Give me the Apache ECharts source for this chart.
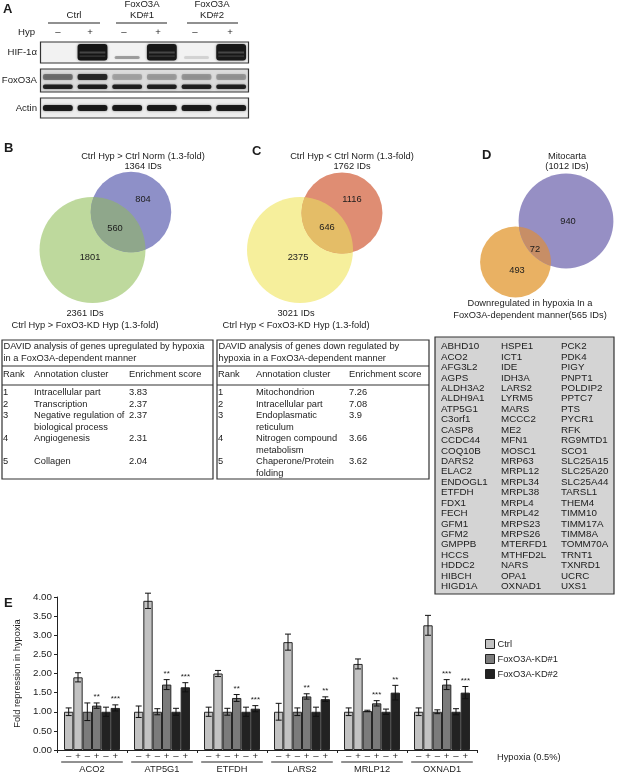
<!DOCTYPE html>
<html><head><meta charset="utf-8">
<script src="https://cdn.jsdelivr.net/npm/echarts@6/dist/echarts.min.js"></script>
<style>html,body{margin:0;padding:0;background:#fff}#c{width:621px;height:774px}</style>
</head><body><div id="c"></div>
<script>
// ---------- Panel A: western blot ----------
const laneSigns = ['–','+','–','+','–','+'];
const laneGroups = ['Ctrl','FoxO3A\nKD#1','FoxO3A\nKD#2'];
const blotRows = ['HIF-1α','FoxO3A','Actin'];
const hifBand = [0.00, 0.97, 0.18, 0.95, 0.06, 0.95];
const foxo3aUpperBand = [0.45, 0.88, 0.22, 0.25, 0.28, 0.28];
const foxo3aLowerBand = [0.88, 0.90, 0.88, 0.88, 0.88, 0.88];
const actinBand = [0.92, 0.92, 0.92, 0.92, 0.92, 0.92];

// ---------- Panels B, C, D: Venn diagrams (only first, overlap, only second) ----------
const vennBCounts = [1801, 560, 804];
const vennBLabels = ['2361 IDs\nCtrl Hyp > FoxO3-KD Hyp (1.3-fold)', 'Ctrl Hyp > Ctrl Norm (1.3-fold)\n1364 IDs'];
const vennCCounts = [2375, 646, 1116];
const vennCLabels = ['3021 IDs\nCtrl Hyp < FoxO3-KD Hyp (1.3-fold)', 'Ctrl Hyp < Ctrl Norm (1.3-fold)\n1762 IDs'];
const vennDCounts = [493, 72, 940];
const vennDLabels = ['Downregulated in hypoxia In a\nFoxO3A-dependent manner(565 IDs)', 'Mitocarta\n(1012 IDs)'];

// ---------- DAVID tables ----------
const tableBTitle = 'DAVID analysis of genes upregulated by hypoxia\nin a FoxO3A-dependent manner';
const tableBRank = ['1','2','3','4','5'];
const tableBCluster = ['Intracellular part','Transcription','Negative regulation of\nbiological process','Angiogenesis','Collagen'];
const tableBScore = ['3.83','2.37','2.37','2.31','2.04'];
const tableCTitle = 'DAVID analysis of genes down regulated by\nhypoxia in a FoxO3A-dependent manner';
const tableCRank = ['1','2','3','4','5'];
const tableCCluster = ['Mitochondrion','Intracellular part','Endoplasmatic\nreticulum','Nitrogen compound\nmetabolism','Chaperone/Protein\nfolding'];
const tableCScore = ['7.26','7.08','3.9','3.66','3.62'];
const tableHeader = ['Rank','Annotation cluster','Enrichment score'];

// ---------- Panel D gene list ----------
const genesCol1 = ['ABHD10','ACO2','AFG3L2','AGPS','ALDH3A2','ALDH9A1','ATP5G1','C3orf1','CASP8','CCDC44','COQ10B','DARS2','ELAC2','ENDOGL1','ETFDH','FDX1','FECH','GFM1','GFM2','GMPPB','HCCS','HDDC2','HIBCH','HIGD1A'];
const genesCol2 = ['HSPE1','ICT1','IDE','IDH3A','LARS2','LYRM5','MARS','MCCC2','ME2','MFN1','MOSC1','MRP63','MRPL12','MRPL34','MRPL38','MRPL4','MRPL42','MRPS23','MRPS26','MTERFD1','MTHFD2L','NARS','OPA1','OXNAD1'];
const genesCol3 = ['PCK2','PDK4','PIGY','PNPT1','POLDIP2','PPTC7','PTS','PYCR1','RFK','RG9MTD1','SCO1','SLC25A15','SLC25A20','SLC25A44','TARSL1','THEM4','TIMM10','TIMM17A','TIMM8A','TOMM70A','TRNT1','TXNRD1','UCRC','UXS1'];

// ---------- Panel E: qPCR bars ----------
const genes = ['ACO2','ATP5G1','ETFDH','LARS2','MRLP12','OXNAD1'];
const hypoxiaSigns = ['–','+','–','+','–','+'];
const groupNames = ['Ctrl','FoxO3A-KD#1','FoxO3A-KD#2'];
const ctrlNorm    = [1.00, 1.00, 1.00, 1.00, 1.00, 1.00];
const ctrlHyp     = [1.90, 3.90, 2.00, 2.82, 2.25, 3.26];
const kd1Norm     = [1.00, 1.00, 1.00, 1.00, 1.02, 1.00];
const kd1Hyp      = [1.16, 1.71, 1.36, 1.40, 1.22, 1.71];
const kd2Norm     = [1.00, 1.00, 1.00, 1.00, 1.00, 1.00];
const kd2Hyp      = [1.10, 1.64, 1.08, 1.33, 1.50, 1.50];
const ctrlNormErr = [0.10, 0.15, 0.12, 0.22, 0.10, 0.10];
const ctrlHypErr  = [0.12, 0.20, 0.08, 0.21, 0.13, 0.26];
const kd1NormErr  = [0.23, 0.08, 0.09, 0.10, 0.02, 0.05];
const kd1HypErr   = [0.07, 0.13, 0.09, 0.07, 0.07, 0.13];
const kd2NormErr  = [0.12, 0.09, 0.12, 0.12, 0.07, 0.08];
const kd2HypErr   = [0.08, 0.12, 0.08, 0.06, 0.19, 0.16];
const kd1Stars    = ['**','**','**','**','***','***'];
const kd2Stars    = ['***','***','***','**','**','***'];
const yTicks = [0, 4, 0.5];

// =================== drawing ===================
const FONT = '"Liberation Sans", Arial, Helvetica, sans-serif';
const FS = 9.3;
const INK = '#1c1c1c';
const chart = echarts.init(document.getElementById('c'), null, {renderer: 'canvas', width: 621, height: 774});

const G = [];
function txt(x, y, text, o) {
  o = o || {};
  const st = {text: text, fill: o.fill || INK, fontSize: o.size || FS, fontFamily: FONT,
    fontWeight: o.weight || 'normal',
    textAlign: o.align || 'left', align: o.align || 'left',
    textVerticalAlign: o.va || 'middle', verticalAlign: o.va || 'middle',
    lineHeight: o.lh || 12};
  G.push({type: 'text', x: x, y: y, rotation: o.rot || 0, style: st, silent: true, z: o.z || 50});
}
function line(x1, y1, x2, y2, w, c) {
  G.push({type: 'line', shape: {x1, y1, x2, y2}, style: {stroke: c || '#222', lineWidth: w || 1}, silent: true, z: 40});
}
function rect(x, y, w, h, fill, stroke, lw, z) {
  G.push({type: 'rect', shape: {x, y, width: w, height: h}, style: {fill: fill || 'none', stroke: stroke || 'none', lineWidth: lw || 1}, silent: true, z: z == null ? 1 : z});
}

// Panel letters
txt(3, 9, 'A', {size: 13, weight: 'bold'});
txt(4, 148, 'B', {size: 13, weight: 'bold'});
txt(252, 151, 'C', {size: 13, weight: 'bold'});
txt(482, 155, 'D', {size: 13, weight: 'bold'});
txt(4, 603, 'E', {size: 13, weight: 'bold'});

// ---- Panel A layout ----
const grpCx = [74, 142, 212];
const grpLine = [[48, 100], [116, 167], [187, 238]];
laneGroups.forEach((g, i) => {
  const multi = g.indexOf('\n') >= 0;
  txt(grpCx[i], multi ? 10 : 15, g, {align: 'center', size: 9.6, lh: 10.5});
  line(grpLine[i][0], 23, grpLine[i][1], 23, 1.2);
});
txt(18, 32, 'Hyp', {size: 9.6});
const laneX = [58, 90, 124, 158, 195, 230];
laneSigns.forEach((s, i) => txt(laneX[i], 32, s, {align: 'center', size: 9.6}));
const blotBoxes = [[42, 21, '#f2f2f2'], [69, 23, '#dcdcdc'], [98, 20, '#ededed']];
const blotLabelX = [37, 37, 37];
blotBoxes.forEach((b, i) => {
  rect(40.5, b[0], 208, b[1], b[2], null, 0, 0);
  rect(40.5, b[0], 208, b[1], 'none', '#333', 1.2, 100);
  txt(blotLabelX[i], b[0] + b[1] / 2, blotRows[i], {align: 'right', size: 9.6});
});

// ---- Venn helpers ----
function lensPoints(c1, r1, c2, r2) {
  const dx = c2[0] - c1[0], dy = c2[1] - c1[1], d = Math.hypot(dx, dy);
  const a = (r1 * r1 - r2 * r2 + d * d) / (2 * d);
  const phi = Math.atan2(dy, dx);
  const al = Math.acos(a / r1), be = Math.acos((d - a) / r2);
  const pts = [];
  const N = 60;
  for (let i = 0; i <= N; i++) { const t = phi - al + 2 * al * i / N; pts.push([c1[0] + r1 * Math.cos(t), c1[1] + r1 * Math.sin(t)]); }
  for (let i = 0; i <= N; i++) { const t = phi + Math.PI - be + 2 * be * i / N; pts.push([c2[0] + r2 * Math.cos(t), c2[1] + r2 * Math.sin(t)]); }
  return pts;
}
function venn(counts, labels, k, cA, cB, colA, colB, colAB, numPos, labPosA, labPosB) {
  const rA = k * Math.sqrt(counts[0] + counts[1]);
  const rB = k * Math.sqrt(counts[1] + counts[2]);
  G.push({type: 'circle', shape: {cx: cA[0], cy: cA[1], r: rA}, style: {fill: colA}, silent: true, z: 5});
  G.push({type: 'circle', shape: {cx: cB[0], cy: cB[1], r: rB}, style: {fill: colB}, silent: true, z: 5});
  G.push({type: 'polygon', shape: {points: lensPoints(cA, rA, cB, rB)}, style: {fill: colAB}, silent: true, z: 6});
  counts.forEach((c, i) => txt(numPos[i][0], numPos[i][1], String(c), {align: 'center'}));
  txt(labPosA[0], labPosA[1], labels[0], {align: 'center', va: 'top', lh: 12});
  txt(labPosB[0], labPosB[1], labels[1], {align: 'center', va: 'top', lh: 9.5});
}
venn(vennBCounts, vennBLabels, 1.09, [92.5, 250], [131, 212], '#bed99d', '#8e90c8', '#8fa78b',
  [[90, 257], [115, 228], [143, 199]], [85, 307], [143, 152]);
venn(vennCCounts, vennCLabels, 0.964, [300, 250], [342, 213], '#f6ef9c', '#df8d73', '#e4bd67',
  [[298, 257], [327, 227], [352, 199]], [296, 307], [352, 152]);
venn(vennDCounts, vennDLabels, 1.49, [515.5, 262], [566, 221], '#e9b163', '#968fc4', '#c78e66',
  [[517, 270], [535, 249], [568, 221]], [530, 297], [567, 152]);

// ---- Tables ----
const rowY = [392, 404, 415, 438, 461];
function table(x0, x1, colX, title, rank, cluster, score) {
  rect(x0, 340, x1 - x0, 139, 'none', '#333', 1.2, 60);
  line(x0, 366, x1, 366, 1.2, '#333');
  line(x0, 385, x1, 385, 1.2, '#333');
  txt(x0 + 1.5, 340, title, {va: 'top', lh: 12});
  tableHeader.forEach((h, i) => txt(colX[i], 374, h));
  rank.forEach((r, i) => {
    txt(colX[0], rowY[i] - 6, r, {va: 'top', lh: 12});
    txt(colX[1], rowY[i] - 6, cluster[i], {va: 'top', lh: 12});
    txt(colX[2], rowY[i] - 6, score[i], {va: 'top', lh: 12});
  });
}
table(2, 213, [3, 34, 129], tableBTitle, tableBRank, tableBCluster, tableBScore);
table(217, 429, [218, 256, 349], tableCTitle, tableCRank, tableCCluster, tableCScore);

// ---- Gene list ----
rect(435, 337, 179, 257, '#d4d4d4', '#333', 1.2, 2);
const geneColX = [441, 501, 561];
[genesCol1, genesCol2, genesCol3].forEach((col, ci) => {
  col.forEach((g, ri) => txt(geneColX[ci], 346.5 + ri * 10.43, g, {size: 9.8}));
});

// ---- Panel E extras ----
txt(497, 757, 'Hypoxia (0.5%)');

// ---- series ----
const condValues = [ctrlNorm, ctrlHyp, kd1Norm, kd1Hyp, kd2Norm, kd2Hyp];
const condErr = [ctrlNormErr, ctrlHypErr, kd1NormErr, kd1HypErr, kd2NormErr, kd2HypErr];
const condStars = [null, null, null, kd1Stars, null, kd2Stars];
const condName = [groupNames[0], groupNames[0], groupNames[1], groupNames[1], groupNames[2], groupNames[2]];
const condColor = ['#c2c2c2', '#c2c2c2', '#7b7b7b', '#7b7b7b', '#222222', '#222222'];

const barSeries = condValues.map((vals, k) => ({
  type: 'bar', name: condName[k], xAxisIndex: 1, yAxisIndex: 1, data: vals,
  barGap: '0%', barCategoryGap: '20%', silent: true,
  itemStyle: {color: condColor[k], borderColor: '#262626', borderWidth: 1}
}));

const errData = [], errStar = [];
genes.forEach((g, gi) => condValues.forEach((vals, k) => {
  errData.push([gi, vals[gi], condErr[k][gi], k]);
  errStar.push(condStars[k] ? condStars[k][gi] : '');
}));

const errSeries = {
  type: 'custom', xAxisIndex: 1, yAxisIndex: 1, data: errData, z: 5, silent: true, clip: false,
  renderItem: function (params, api) {
    const gi = api.value(0), v = api.value(1), e = api.value(2), k = api.value(3);
    const base = api.coord([gi, 0]);
    const bw = api.size([1, 0])[0];
    const barW = bw * 0.8 / 6;
    const x = base[0] - bw * 0.4 + (k + 0.5) * barW;
    const yT = api.coord([gi, v + e])[1], yB = api.coord([gi, v - e])[1];
    const cap = 3;
    const st = {stroke: '#111', lineWidth: 1};
    const ch = [
      {type: 'line', shape: {x1: x, y1: yT, x2: x, y2: yB}, style: st},
      {type: 'line', shape: {x1: x - cap, y1: yT, x2: x + cap, y2: yT}, style: st},
      {type: 'line', shape: {x1: x - cap, y1: yB, x2: x + cap, y2: yB}, style: st}
    ];
    const s = errStar[params.dataIndex];
    if (s) ch.push({type: 'text', x: x, y: yT - 2, style: {text: s, fill: INK, fontSize: 8, fontFamily: FONT, align: 'center', textAlign: 'center', verticalAlign: 'bottom', textVerticalAlign: 'bottom'}});
    return {type: 'group', children: ch};
  }
};

const signSeries = {
  type: 'custom', xAxisIndex: 1, yAxisIndex: 1, data: genes.map((g, i) => [i, 0]), z: 5, silent: true, clip: false,
  renderItem: function (params, api) {
    const gi = api.value(0);
    const base = api.coord([gi, 0]);
    const bw = api.size([1, 0])[0];
    const barW = bw * 0.8 / 6;
    const ch = hypoxiaSigns.map((s, k) => ({type: 'text', x: base[0] - bw * 0.4 + (k + 0.5) * barW, y: base[1] + 6.5,
      style: {text: s, fill: INK, fontSize: 9.6, fontFamily: FONT, align: 'center', textAlign: 'center', verticalAlign: 'middle', textVerticalAlign: 'middle'}}));
    ch.push({type: 'line', shape: {x1: base[0] - bw * 0.44, y1: base[1] + 12, x2: base[0] + bw * 0.44, y2: base[1] + 12}, style: {stroke: '#222', lineWidth: 1}});
    return {type: 'group', children: ch};
  }
};

const blotData = laneSigns.map((s, i) => [i, hifBand[i], foxo3aUpperBand[i], foxo3aLowerBand[i], actinBand[i]]);
const blotSeries = {
  type: 'custom', xAxisIndex: 0, yAxisIndex: 0, data: blotData, z: 10, silent: true, clip: false,
  renderItem: function (params, api) {
    const i = api.value(0);
    const x = api.coord([i, 0])[0];
    const w = api.size([1, 0])[0] * 0.86;
    const hif = api.value(1), up = api.value(2), low = api.value(3), act = api.value(4);
    const blur = {shadowBlur: 2.5, shadowColor: 'rgba(0,0,0,0.5)'};
    const ch = [];
    if (hif > 0.5) {
      ch.push({type: 'rect', shape: {x: x - w / 2, y: 44, width: w, height: 16.5, r: 3}, style: Object.assign({fill: 'rgba(18,18,18,' + hif + ')'}, blur)});
      ch.push({type: 'rect', shape: {x: x - w / 2 + 2, y: 51.5, width: w - 4, height: 2}, style: {fill: 'rgba(110,110,110,0.55)'}});
      ch.push({type: 'rect', shape: {x: x - w / 2 + 2, y: 55.5, width: w - 4, height: 1.2}, style: {fill: 'rgba(120,120,120,0.4)'}});
    } else if (hif > 0.01) {
      ch.push({type: 'rect', shape: {x: x - w * 0.42, y: 56, width: w * 0.84, height: 3, r: 1.5}, style: Object.assign({fill: 'rgba(60,60,60,' + (hif * 2.2) + ')'}, {shadowBlur: 2, shadowColor: 'rgba(0,0,0,0.3)'})});
    }
    ch.push({type: 'rect', shape: {x: x - w / 2, y: 74, width: w, height: 6, r: 2}, style: Object.assign({fill: 'rgba(25,25,25,' + up + ')'}, blur)});
    ch.push({type: 'rect', shape: {x: x - w / 2, y: 84.5, width: w, height: 4.5, r: 2}, style: Object.assign({fill: 'rgba(15,15,15,' + low + ')'}, blur)});
    ch.push({type: 'rect', shape: {x: x - w / 2, y: 105, width: w, height: 6, r: 2.5}, style: Object.assign({fill: 'rgba(15,15,15,' + act + ')'}, blur)});
    return {type: 'group', children: ch};
  }
};

const option = {
  animation: false,
  backgroundColor: '#ffffff',
  textStyle: {fontFamily: FONT},
  tooltip: {show: false},
  grid: [
    {left: 40.5, top: 42, width: 208, height: 76, show: false, outerBoundsMode: 'none'},
    {left: 57, top: 597, width: 420, height: 153, show: false, outerBoundsMode: 'none'}
  ],
  xAxis: [
    {gridIndex: 0, type: 'category', data: laneSigns.map((s, i) => String(i)), show: false},
    {gridIndex: 1, type: 'category', data: genes,
      axisLine: {show: true, lineStyle: {color: '#222', width: 1}},
      axisTick: {show: true, length: 3, lineStyle: {color: '#222'}},
      axisLabel: {interval: 0, margin: 15, fontSize: FS, color: INK, fontFamily: FONT},
      splitLine: {show: false}}
  ],
  yAxis: [
    {gridIndex: 0, type: 'value', min: 0, max: 1, show: false},
    {gridIndex: 1, type: 'value', min: yTicks[0], max: yTicks[1], interval: yTicks[2],
      name: 'Fold repression in hypoxia', nameLocation: 'middle', nameGap: 31, nameRotate: 90,
      nameTextStyle: {fontSize: FS, color: INK, fontFamily: FONT},
      axisLine: {show: true, lineStyle: {color: '#222', width: 1}},
      axisTick: {show: true, length: 3, lineStyle: {color: '#222'}},
      axisLabel: {formatter: v => v.toFixed(2), fontSize: 9.8, color: INK, margin: 5, fontFamily: FONT},
      splitLine: {show: false}}
  ],
  legend: {show: true, orient: 'vertical', left: 485, top: 639, padding: 0, itemWidth: 9, itemHeight: 9, itemGap: 5,
    icon: 'rect', selectedMode: false, data: groupNames,
    itemStyle: {borderColor: '#222', borderWidth: 1},
    textStyle: {fontSize: FS, color: INK, fontFamily: FONT, padding: [0, 0, 0, -2]}},
  series: [blotSeries].concat(barSeries, [errSeries, signSeries]),
  graphic: {elements: G}
};
chart.setOption(option);
</script></body></html>
